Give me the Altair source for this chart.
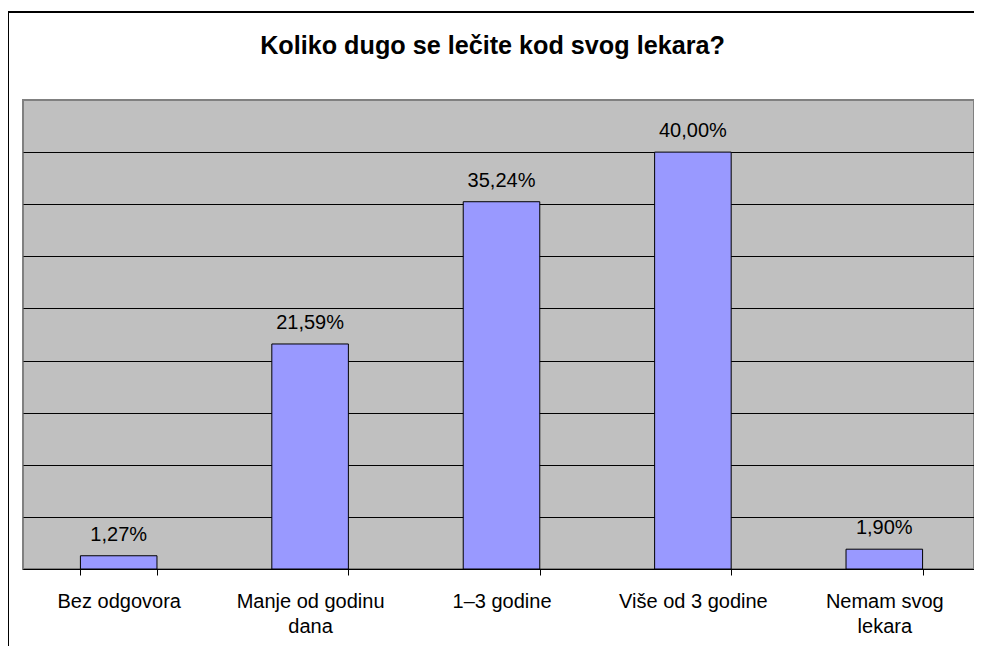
import altair as alt
import pandas as pd

categories = ["Bez odgovora", "Manje od godinu\ndana", "1–3 godine", "Više od 3 godine", "Nemam svog\nlekara"]
values = [1.27, 21.59, 35.24, 40.00, 1.90]
grid_values = [0, 5, 10, 15, 20, 25, 30, 35, 40]
title_text = "Koliko dugo se lečite kod svog lekara?"

df = pd.DataFrame({"cat": categories, "value": values})

W, H = 951, 469
FONT = "Liberation Sans"

x = alt.X(
    "cat:N", sort=None,
    scale=alt.Scale(paddingInner=0.6, paddingOuter=0.3, range=[0, 957]),
    axis=alt.Axis(
        title=None, labelAngle=0, labelExpr="split(datum.label, '\\n')",
        tickBand="extent", tickSize=6, tickColor="black", tickWidth=1,
        domainColor="black", domainWidth=1,
        labelFont=FONT, labelFontSize=20, labelColor="black",
        labelPadding=16, labelLineHeight=25, grid=False,
    ),
)
y = alt.Y(
    "value:Q",
    scale=alt.Scale(domain=[0, 45], nice=False, zero=True),
    axis=alt.Axis(
        title=None, values=grid_values, labels=False, ticks=False, domain=False,
        grid=True, gridColor="black", gridWidth=1, gridOpacity=1,
    ),
)

base = alt.Chart(df)
bars = base.mark_bar(fill="#9999FF", stroke="black", strokeWidth=1).encode(x=x, y=y)
text = base.transform_calculate(
    lbl="replace(format(datum.value, '.2f'), '.', ',') + '%'"
).mark_text(font=FONT, fontSize=20, dy=-15, color="black", baseline="alphabetic").encode(
    x=x, y=y, text="lbl:N"
)

border = alt.Chart(pd.DataFrame({"a": [0]})).mark_rect(
    fillOpacity=0, stroke="black", strokeWidth=2, clip=False
).encode(
    x=alt.value(-15), x2=alt.value(1000), y=alt.value(-88), y2=alt.value(700)
)

chart = alt.layer(bars, text, border).properties(
    width=W, height=H,
    title=alt.TitleParams(
        title_text, font=FONT, fontSize=25.2, fontWeight="bold", color="black",
        anchor="middle", frame="group", dx=-6, offset=-68, baseline="alphabetic",
    ),
    padding={"left": 15, "top": 92, "right": 0, "bottom": 77},
    autosize="none",
).configure(background="white").configure_view(
    fill="#C0C0C0", stroke="#808080", strokeWidth=2
)

chart.save("out.html", embed_options={"renderer": "svg", "actions": False})
